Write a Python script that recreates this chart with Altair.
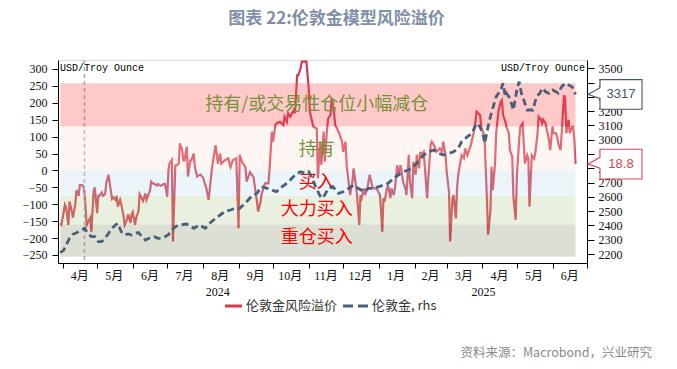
import altair as alt
import pandas as pd

BASE = pd.Timestamp("2024-04-01")

# 伦敦金风险溢价 : day offset from 2024-04-01, value (lhs)
prem_day = [
    -2, -1, 2, 3, 5, 6, 8, 9, 11, 12,
    14, 15, 17, 18, 19, 21, 24, 25, 27, 28,
    30, 31, 32, 34, 35, 37, 38, 40, 41, 43,
    44, 46, 47, 48, 50, 51, 53, 54, 56, 57,
    59, 60, 61, 63, 64, 66, 67, 69, 70, 72,
    73, 75, 76, 77, 79, 80, 82, 83, 85, 86,
    88, 89, 91, 92, 93, 95, 96, 98, 99, 101,
    102, 104, 105, 106, 108, 109, 111, 112, 114, 115,
    117, 118, 120, 122, 125, 127, 130, 133, 134, 135,
    137, 138, 141, 144, 146, 148, 151, 153, 154, 156,
    159, 160, 163, 166, 169, 170, 172, 173, 176, 179,
    180, 182, 183, 185, 186, 189, 192, 193, 195, 196,
    198, 201, 202, 204, 205, 207, 208, 212, 214, 215,
    217, 218, 221, 222, 224, 225, 227, 228, 230, 231,
    233, 234, 236, 237, 238, 241, 243, 244, 246, 247,
    249, 250, 252, 253, 255, 256, 258, 259, 260, 262,
    263, 265, 267, 269, 270, 273, 276, 278, 279, 280,
    282, 283, 285, 286, 288, 289, 291, 292, 294, 295,
    296, 298, 299, 301, 302, 304, 305, 307, 308, 310,
    311, 312, 314, 317, 318, 320, 321, 323, 325, 328,
    330, 331, 333, 334, 336, 337, 339, 340, 342, 343,
    344, 346, 347, 349, 350, 352, 355, 357, 359, 360,
    363, 364, 366, 367, 369, 370, 372, 373, 374, 376,
    377, 379, 381, 382, 383, 385, 386, 388, 389, 391,
    392, 394, 395, 397, 398, 400, 401, 402, 404, 405,
    406, 407, 408, 410, 411, 413, 414, 416, 417, 418,
    420, 421, 423, 424, 426, 427, 429, 430, 431, 433,
    434, 436, 437, 438, 440, 441, 443, 444, 445, 446,
]
prem_val = [
    -156, -160, -102, -110, -161, -92, -120, -140, -102, -58,
    -75, -43, -43, -47, -65, -161, -140, -181, -60, -50,
    -126, -75, -75, -65, -75, -70, -38, -13, -38, -84,
    -80, -87, -75, -107, -87, -100, -136, -161, -145, -130,
    -155, -130, -123, -161, -140, -120, -70, -84, -90, -68,
    -87, -68, -60, -33, -40, -40, -45, -40, -45, -45,
    -40, -40, -78, 0, 21, 31, -210, 15, 15, 20,
    80, 60, 30, 30, 70, -18, 30, 30, 50, 10,
    -18, -15, -13, -20, -53, -87, 10, 75, 50, 20,
    50, 20, 30, 36, 10, 30, 36, -171, 46, 25,
    10, -33, -5, -20, -92, -122, -95, -70, -38, -38,
    6, 115, 85, 134, 139, 144, 134, 159, 144, 169,
    159, 179, 169, 282, 282, 302, 322, 322, 243, 174,
    144, 129, 124, -23, 85, 16, 115, 26, 124, 154,
    164, 213, 174, 134, 129, 105, 85, 55, 85, 16,
    -43, -73, -33, 6, -43, -73, -161, -73, -82, -53,
    -73, -53, -13, -43, -53, -53, -73, -181, -82, -92,
    -53, -43, -82, -53, -73, -53, 16, -13, 16, -8,
    -33, -53, -73, 46, -33, -82, 26, -13, 46, 6,
    55, 46, 55, -82, -23, 75, 85, 75, 55, 65,
    55, 85, 45, -4, -63, -210, -82, -73, -142, -53,
    -13, 26, 45, 36, 65, 45, 75, 105, 144, 174,
    164, 130, 110, 90, -87, -190, -120, 11, -58, 17,
    110, 175, 203, 208, 164, 144, 129, 110, 60, 40,
    -78, -146, -18, 90, 129, 139, 80, 21, 45, 35,
    -107, -30, 45, 35, 50, 110, 159, 150, 139, 150,
    139, 120, 90, 60, 130, 110, 110, 100, 80, 60,
    110, 223, 213, 110, 150, 110, 129, 129, 90, 18.8,
]

# 伦敦金 (rhs)
gold_day = [
    -2, 1, 3, 6, 9, 14, 17, 19, 22, 25,
    28, 31, 34, 37, 40, 43, 46, 48, 51, 54,
    57, 60, 63, 66, 69, 72, 75, 77, 80, 83,
    86, 89, 92, 95, 98, 102, 108, 114, 119, 124,
    128, 133, 137, 141, 146, 150, 154, 160, 164, 169,
    173, 178, 182, 186, 189, 193, 198, 202, 207, 211,
    214, 217, 220, 222, 225, 228, 231, 235, 240, 244,
    249, 253, 257, 262, 266, 270, 275, 279, 283, 288,
    292, 296, 301, 305, 309, 314, 318, 323, 327, 331,
    336, 340, 344, 347, 352, 356, 360, 363, 366, 367,
    370, 372, 374, 377, 381, 383, 385, 386, 389, 392,
    395, 397, 399, 401, 404, 407, 409, 412, 415, 417,
    420, 423, 426, 429, 431, 434, 437, 440, 443, 446,
]
gold_val = [
    2209, 2228, 2263, 2310, 2338, 2356, 2368, 2380, 2345, 2321,
    2321, 2286, 2286, 2310, 2345, 2380, 2403, 2415, 2356, 2333,
    2340, 2333, 2345, 2350, 2321, 2298, 2310, 2310, 2320, 2310,
    2310, 2321, 2335, 2368, 2391, 2403, 2410, 2380, 2403, 2380,
    2415, 2450, 2473, 2496, 2508, 2520, 2520, 2566, 2601, 2625,
    2671, 2660, 2648, 2636, 2660, 2683, 2718, 2753, 2776, 2765,
    2776, 2730, 2671, 2636, 2590, 2613, 2660, 2671, 2625, 2636,
    2660, 2683, 2660, 2636, 2660, 2660, 2671, 2683, 2695, 2730,
    2753, 2776, 2788, 2811, 2846, 2893, 2916, 2928, 2905, 2893,
    2905, 2916, 2940, 2986, 3021, 3045, 3115, 3091, 3021, 2975,
    3091, 3161, 3220, 3301, 3348, 3395, 3301, 3325, 3290, 3208,
    3348, 3406, 3325, 3278, 3208, 3208, 3208, 3301, 3325, 3360,
    3336, 3325, 3348, 3336, 3325, 3371, 3395, 3383, 3371, 3317,
]

band_names = ["reduce", "hold", "buy", "strong", "heavy"]
band_lo = [130, 0, -75, -160, -255]
band_hi = [258, 130, 0, -75, -160]

label_text = ["持有/或交易性仓位小幅减仓", "持有", "买入", "大力买入", "重仓买入"]
label_y = [193, 60, -38, -117, -200]
label_group = ["o", "o", "r", "r", "r"]
label_date = "2024-11-08"

month_text = ["4月", "5月", "6月", "7月", "8月", "9月", "10月", "11月", "12月",
              "1月", "2月", "3月", "4月", "5月", "6月"]
month_mid = ["2024-04-16", "2024-05-16", "2024-06-16", "2024-07-16", "2024-08-16",
             "2024-09-16", "2024-10-16", "2024-11-16", "2024-12-16", "2025-01-16",
             "2025-02-15", "2025-03-16", "2025-04-16", "2025-05-16", "2025-06-16"]
year_text = ["2024", "2025"]
year_mid = ["2024-08-14", "2025-04-02"]
vline_day = 19

RED = "#d43a4e"
GOLD = "#4a5f78"
BAND_COLORS = ["#ff4b4b", "#f8e1d4", "#b9daeb", "#b9cd94", "#8a946c"]
OLIVE = "#76903a"
W, H = 529, 203

prem = pd.DataFrame({"date": BASE + pd.to_timedelta(prem_day, unit="D"), "v": prem_val})
gold = pd.DataFrame({"date": BASE + pd.to_timedelta(gold_day, unit="D"), "v": gold_val})

xs = alt.Scale(domain=[alt.DateTime(year=2024, month=3, date=28),
                       alt.DateTime(year=2025, month=7, date=1)])
yL = alt.Scale(domain=[-273.7, 326.6], nice=False, zero=False)
yR = alt.Scale(domain=[2137, 3558], nice=False, zero=False)

tick_vals = []
for y, m in [(2024, k) for k in range(4, 13)] + [(2025, k) for k in range(1, 8)]:
    tick_vals.append(alt.DateTime(year=y, month=m, date=1))

AX_FONT = "Liberation Serif, Noto Sans CJK SC"

XAX = alt.Axis(values=tick_vals, labels=False, ticks=True, tickSize=5, tickColor="#000",
               domainColor="#000", grid=False, title=None)
YLAX = alt.Axis(values=list(range(-250, 301, 50)), title=None, grid=False, tickSize=6,
                labelPadding=5, labelFont=AX_FONT, labelFontSize=12, labelColor="#111",
                tickColor="#000", domainColor="#000", orient="left", format="d")
YRAX = alt.Axis(orient="right", values=list(range(2200, 3501, 100)), title=None, grid=False,
                tickSize=7, labelPadding=4, labelFont=AX_FONT, labelFontSize=12,
                labelColor="#111", tickColor="#000", domainColor="#000", format="d")


def X(field):
    return alt.X(field, scale=xs, axis=XAX)


def YL(field):
    return alt.Y(field, scale=yL, axis=YLAX)


def YR(field):
    return alt.Y(field, scale=yR, axis=YRAX)


red = alt.Chart(prem).mark_line(color=RED, strokeWidth=2.2).encode(x=X("date:T"), y=YL("v:Q"))

vline = alt.Chart(pd.DataFrame({"date": [BASE + pd.Timedelta(days=vline_day)]})).mark_rule(
    color="#a8a8a8", strokeDash=[4, 3], strokeWidth=1.5).encode(
    x=X("date:T"), y=alt.value(0), y2=alt.value(H))

bands_df = pd.DataFrame({"band": band_names, "lo": band_lo, "hi": band_hi,
                         "start": prem["date"].min(), "end": prem["date"].max()})
bands = alt.Chart(bands_df).mark_rect(opacity=0.3).encode(
    x=X("start:T"), x2="end:T", y=YL("lo:Q"), y2="hi:Q",
    color=alt.Color("band:N", scale=alt.Scale(domain=band_names, range=BAND_COLORS), legend=None),
)

labels_df = pd.DataFrame({"t": label_text, "v": label_y, "g": label_group,
                          "date": pd.Timestamp(label_date)})
band_labels_o = alt.Chart(labels_df).transform_filter("datum.g == 'o'").mark_text(
    font="Noto Sans CJK SC", fontSize=18, color=OLIVE, baseline="middle", align="center").encode(
    x=X("date:T"), y=YL("v:Q"), text="t:N")
band_labels_r = alt.Chart(labels_df).transform_filter("datum.g == 'r'").mark_text(
    font="Noto Sans CJK SC", fontSize=18, color="#ff0000", baseline="middle", align="center").encode(
    x=X("date:T"), y=YL("v:Q"), text="t:N")

BOX = "M0,0 L0.444,-0.25 L0.444,-0.55 L2,-0.55 L2,0.55 L0.444,0.55 L0.444,0.15 Z"
last_prem = pd.DataFrame({"v": [prem_val[-1]], "t": [f"{prem_val[-1]:.1f}"]})
last_gold = pd.DataFrame({"v": [gold_val[-1]], "t": [f"{gold_val[-1]:.0f}"]})

prem_box = alt.Chart(last_prem).mark_point(shape=BOX, size=2916, filled=True, fill="white",
                                           stroke="#cf4a5c", strokeWidth=1.1, opacity=1).encode(
    x=alt.value(W + 1), y=YL("v:Q"))
prem_txt = alt.Chart(last_prem).mark_text(font="Liberation Sans", fontSize=13, color="#e0404f",
                                          align="center", baseline="middle").encode(
    x=alt.value(W + 34), y=YL("v:Q"), text="t:N")
gold_box = alt.Chart(last_gold).mark_point(shape=BOX, size=2916, filled=True, fill="white",
                                           stroke="#44546a", strokeWidth=1.1, opacity=1).encode(
    x=alt.value(W + 1), y=YR("v:Q"))
gold_txt = alt.Chart(last_gold).mark_text(font="Liberation Sans", fontSize=13, color="#44546a",
                                          align="center", baseline="middle").encode(
    x=alt.value(W + 34), y=YR("v:Q"), text="t:N")

months_df = pd.DataFrame({"date": pd.to_datetime(month_mid), "t": month_text})
months = alt.Chart(months_df).mark_text(font=AX_FONT, fontSize=12, color="#111",
                                        baseline="middle").encode(
    x=X("date:T"), y=alt.value(H + 13), text="t:N")
years_df = pd.DataFrame({"date": pd.to_datetime(year_mid), "t": year_text})
years = alt.Chart(years_df).mark_text(font=AX_FONT, fontSize=12, color="#111",
                                      baseline="middle").encode(
    x=X("date:T"), y=alt.value(H + 29), text="t:N")

one = pd.DataFrame({"t": ["伦敦金风险溢价"]})
leg1 = alt.Chart(one).mark_rule(color=RED, strokeWidth=3).encode(
    x=alt.value(167), x2=alt.value(184), y=alt.value(246))
leg1t = alt.Chart(one).mark_text(font="Noto Sans CJK SC", fontSize=13, color="#333",
                                 align="left", baseline="middle").encode(
    x=alt.value(188), y=alt.value(246), text="t:N")
two = pd.DataFrame({"t": ["伦敦金, rhs"]})
leg2 = alt.Chart(two).mark_rule(color=GOLD, strokeWidth=3, strokeDash=[10, 5]).encode(
    x=alt.value(285), x2=alt.value(312), y=alt.value(246))
leg2t = alt.Chart(two).mark_text(font="Noto Sans CJK SC", fontSize=13, color="#333",
                                 align="left", baseline="middle").encode(
    x=alt.value(314), y=alt.value(246), text="t:N")

src = alt.Chart(pd.DataFrame({"t": ["资料来源：Macrobond，兴业研究"]})).mark_text(
    font="Noto Sans CJK SC", fontSize=12.5, color="#8a8a8a", align="right", baseline="middle").encode(
    x=alt.value(594), y=alt.value(293), text="t:N")

unit_df = pd.DataFrame({"t": ["USD/Troy Ounce"]})
unitL = alt.Chart(unit_df).mark_text(font="Liberation Mono", fontSize=10, color="#000",
                                     align="left", baseline="middle").encode(
    x=alt.value(2), y=alt.value(8), text="t:N")
unitR = alt.Chart(unit_df).mark_text(font="Liberation Mono", fontSize=10, color="#000",
                                     align="right", baseline="middle").encode(
    x=alt.value(W - 2), y=alt.value(8), text="t:N")

goldline = alt.Chart(gold).mark_line(color=GOLD, strokeWidth=2.8, strokeDash=[7, 4]).encode(
    x=X("date:T"), y=YR("v:Q"))

left = alt.layer(red, vline, bands, band_labels_o, band_labels_r, prem_box, prem_txt,
                 months, years, leg1, leg1t, leg2, leg2t, src, unitL, unitR)
right = alt.layer(goldline, gold_box, gold_txt)

chart = alt.layer(left, right).resolve_scale(y="independent").properties(
    width=W, height=H,
    padding={"left": 50, "top": 52, "right": 82, "bottom": 98},
    autosize=alt.AutoSizeParams(type="none"),
    title=alt.TitleParams(text="图表 22:伦敦金模型风险溢价", font="Noto Sans CJK SC",
                          fontSize=17, fontWeight="bold", color="#7f8fa6",
                          anchor="middle", frame="group", offset=29, dx=14),
).configure_view(stroke=None).configure(background="white")

chart.save("out.html", embed_options={"renderer": "svg", "actions": False})
